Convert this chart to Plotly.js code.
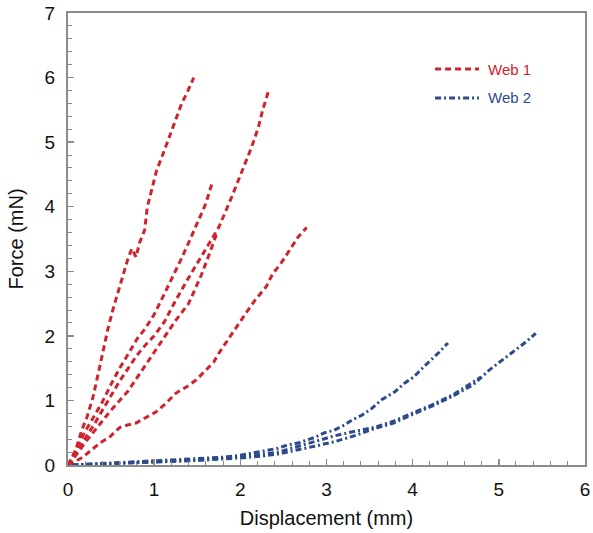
<!DOCTYPE html>
<html>
<head>
<meta charset="utf-8">
<script src="https://cdn.plot.ly/plotly-3.0.1.min.js"></script>
<style>html,body{margin:0;padding:0;background:#fff;}#chart{width:593px;height:533px;}</style>
</head>
<body>
<div id="chart"></div>
<script>
// Web 1 specimens (red, dashed)
const web1_A_x = [0, 0.057, 0.115, 0.16, 0.22, 0.29, 0.36, 0.40, 0.46, 0.52, 0.60, 0.66, 0.69, 0.74, 0.79, 0.83, 0.89, 0.92, 0.98, 1.03, 1.09, 1.15, 1.21, 1.26, 1.32, 1.38, 1.46];
const web1_A_y = [0, 0.08, 0.34, 0.54, 0.74, 1.05, 1.47, 1.73, 2.09, 2.40, 2.76, 3.02, 3.17, 3.35, 3.22, 3.44, 3.64, 3.99, 4.30, 4.57, 4.77, 4.98, 5.19, 5.39, 5.60, 5.76, 6.00];

const web1_B_x = [0, 0.05, 0.12, 0.2, 0.3, 0.4, 0.5, 0.6, 0.7, 0.8, 0.9, 1.0, 1.12, 1.25, 1.4, 1.6, 1.75, 1.9, 1.98, 2.06, 2.13, 2.21, 2.26, 2.33];
const web1_B_y = [0, 0.1, 0.25, 0.42, 0.62, 0.85, 1.08, 1.3, 1.5, 1.7, 1.86, 2.0, 2.22, 2.55, 2.9, 3.35, 3.68, 4.15, 4.41, 4.67, 4.92, 5.23, 5.5, 5.8];

const web1_C_x = [0, 0.05, 0.12, 0.2, 0.3, 0.4, 0.5, 0.6, 0.7, 0.8, 0.9, 1.0, 1.1, 1.2, 1.3, 1.4, 1.5, 1.6, 1.68];
const web1_C_y = [0, 0.14, 0.32, 0.52, 0.74, 0.98, 1.25, 1.5, 1.72, 1.95, 2.12, 2.33, 2.6, 2.87, 3.15, 3.44, 3.74, 4.05, 4.4];

const web1_D_x = [0, 0.05, 0.12, 0.2, 0.3, 0.4, 0.5, 0.6, 0.7, 0.8, 0.9, 1.0, 1.1, 1.25, 1.4, 1.55, 1.65, 1.73];
const web1_D_y = [0, 0.08, 0.2, 0.35, 0.52, 0.68, 0.85, 1.0, 1.15, 1.35, 1.55, 1.75, 1.95, 2.24, 2.5, 2.95, 3.3, 3.6];

const web1_E_x = [0, 0.08, 0.17, 0.27, 0.37, 0.48, 0.60, 0.69, 0.79, 0.91, 1.02, 1.14, 1.25, 1.40, 1.49, 1.60, 1.69, 1.75, 1.83, 1.90, 1.98, 2.09, 2.17, 2.24, 2.30, 2.38, 2.46, 2.52, 2.59, 2.67, 2.77];
const web1_E_y = [0, 0.05, 0.12, 0.23, 0.34, 0.43, 0.58, 0.62, 0.65, 0.74, 0.82, 0.96, 1.11, 1.23, 1.32, 1.47, 1.59, 1.73, 1.89, 2.04, 2.20, 2.40, 2.55, 2.66, 2.76, 2.97, 3.10, 3.22, 3.37, 3.53, 3.68];

// Web 2 specimens (blue, dash-dot)
const web2_F_x = [0.05, 0.5, 1.0, 1.5, 1.8, 2.0, 2.2, 2.44, 2.55, 2.67, 2.78, 2.87, 2.98, 3.09, 3.21, 3.30, 3.41, 3.53, 3.64, 3.79, 3.91, 4.01, 4.13, 4.22, 4.31, 4.41];
const web2_F_y = [0, 0.03, 0.06, 0.09, 0.12, 0.15, 0.2, 0.26, 0.31, 0.34, 0.39, 0.43, 0.5, 0.54, 0.62, 0.70, 0.77, 0.88, 1.01, 1.13, 1.27, 1.36, 1.52, 1.63, 1.75, 1.89];

const web2_G_x = [0.05, 0.5, 1.0, 1.5, 2.0, 2.2, 2.44, 2.63, 2.86, 3.09, 3.32, 3.55, 3.78, 4.01, 4.24, 4.47, 4.70, 4.89, 5.08, 5.20, 5.31, 5.43];
const web2_G_y = [0, 0.02, 0.04, 0.07, 0.11, 0.13, 0.17, 0.22, 0.29, 0.36, 0.45, 0.56, 0.65, 0.79, 0.92, 1.07, 1.24, 1.47, 1.66, 1.78, 1.90, 2.04];

const web2_H_x = [0.05, 0.5, 1.0, 1.5, 2.0, 2.2, 2.44, 2.63, 2.86, 3.09, 3.32, 3.55, 3.78, 4.01, 4.24, 4.47, 4.79];
const web2_H_y = [0, 0.02, 0.05, 0.08, 0.13, 0.16, 0.2, 0.27, 0.36, 0.45, 0.52, 0.58, 0.68, 0.81, 0.94, 1.09, 1.36];

const legendLabels = ['Web 1', 'Web 2'];
const xTicks = [0, 1, 2, 3, 4, 5, 6];
const yTicks = [0, 1, 2, 3, 4, 5, 6, 7];

const RED = '#d0232f';
const BLUE = '#2d4a8d';
const redDash = '6px,4px';
const blueDash = '6px,3px,2px,3px';

function tr(x, y, color, dash) {
  return {x: x, y: y, type: 'scatter', mode: 'lines', showlegend: false, cliponaxis: false,
    line: {color: color, width: 3, dash: dash}, hoverinfo: 'skip'};
}

const traces = [
  tr(web1_A_x, web1_A_y, RED, redDash),
  tr(web1_B_x, web1_B_y, RED, redDash),
  tr(web1_C_x, web1_C_y, RED, redDash),
  tr(web1_D_x, web1_D_y, RED, redDash),
  tr(web1_E_x, web1_E_y, RED, redDash),
  tr(web2_F_x, web2_F_y, BLUE, blueDash),
  tr(web2_G_x, web2_G_y, BLUE, blueDash),
  tr(web2_H_x, web2_H_y, BLUE, blueDash)
];

const FONT = 'Liberation Sans, Arial, sans-serif';
const axisCommon = {
  showgrid: false, zeroline: false,
  showline: true, linecolor: '#8c8c8c', linewidth: 2, mirror: true,
  ticks: 'inside', ticklen: 6, tickwidth: 1.5, tickcolor: '#8c8c8c',
  tickfont: {family: FONT, size: 19, color: '#111'},
  ticklabeloverflow: 'allow',
  minor: {ticks: 'inside', ticklen: 4, tickwidth: 1, tickcolor: '#8c8c8c', dtick: 0.2}
};

const layout = {
  width: 593, height: 533,
  margin: {l: 68, r: 8, t: 13, b: 68},
  paper_bgcolor: '#fff', plot_bgcolor: '#fff',
  showlegend: false,
  xaxis: Object.assign({}, axisCommon, {
    range: [0, 6.001], tickvals: xTicks, ticktext: xTicks.map(String),
    ticklabelstandoff: 6,
    title: {text: 'Displacement (mm)', font: {family: FONT, size: 20, color: '#111'}, standoff: 12}
  }),
  yaxis: Object.assign({}, axisCommon, {
    range: [0, 7], tickvals: yTicks, ticktext: yTicks.map(String),
    ticklabelstandoff: 7,
    title: {text: 'Force (mN)', font: {family: FONT, size: 20, color: '#111'}, standoff: 16}
  }),
  shapes: [
    {type: 'line', xref: 'paper', yref: 'paper', x0: 0.71, x1: 0.795, y0: 0.876, y1: 0.876,
     line: {color: RED, width: 3, dash: redDash}},
    {type: 'line', xref: 'paper', yref: 'paper', x0: 0.71, x1: 0.795, y0: 0.812, y1: 0.812,
     line: {color: BLUE, width: 3, dash: blueDash}}
  ],
  annotations: [
    {xref: 'paper', yref: 'paper', x: 0.808, y: 0.876, xanchor: 'left', yanchor: 'middle', showarrow: false,
     text: legendLabels[0], font: {family: FONT, size: 15, color: RED}},
    {xref: 'paper', yref: 'paper', x: 0.808, y: 0.812, xanchor: 'left', yanchor: 'middle', showarrow: false,
     text: legendLabels[1], font: {family: FONT, size: 15, color: BLUE}}
  ]
};

Plotly.newPlot('chart', traces, layout, {displayModeBar: false, staticPlot: true});
</script>
</body>
</html>
